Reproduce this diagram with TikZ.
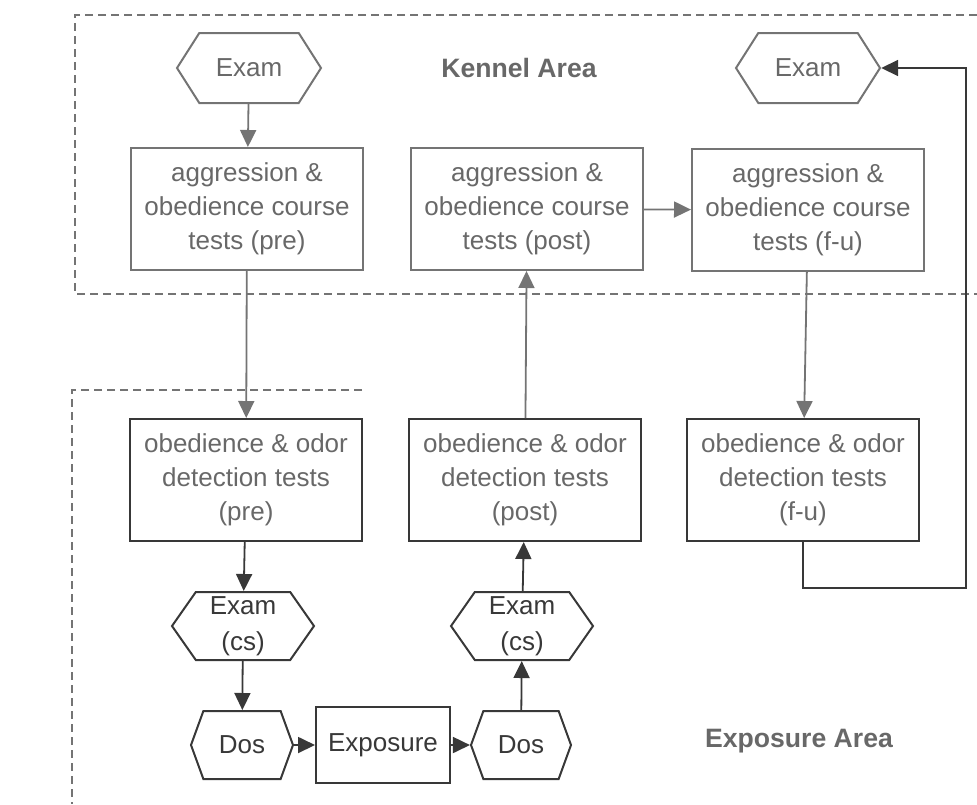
\documentclass[tikz,border=0pt]{standalone}
\usepackage{fontspec}
\setmainfont{Liberation Sans}
\usetikzlibrary{positioning, shapes.symbols, arrows.meta}

\definecolor{lineGray}{HTML}{747474}
\definecolor{darkLine}{HTML}{383838}
\definecolor{textGray}{HTML}{686868}

\begin{document}
\begin{tikzpicture}[x=0.5pt, y=-0.5pt,
    testbox/.style={draw=lineGray, line width=1pt, text=textGray, align=center,
        minimum width=116pt, minimum height=61pt, inner sep=1pt,
        font=\fontsize{13}{17}\selectfont},
    exam/.style={draw=lineGray, line width=1pt, text=textGray, align=center,
        signal, signal to=west and east, signal pointer angle=115,
        minimum width=72pt, minimum height=35pt, inner sep=1pt,
        font=\fontsize{13}{18}\selectfont},
    area/.style={text=textGray, font=\fontsize{13.3}{15}\selectfont\bfseries},
    flow/.style={draw=lineGray, line width=0.9pt, -{Triangle[length=8.5pt,width=8pt]}}]

    % page size
    \useasboundingbox (0,0) rectangle (977,804);

    % the two areas, dashed
    \draw[lineGray, line width=1pt, dash pattern=on 4pt off 2.5pt]
        (977,15) -- (75,15) -- (75,294) -- (977,294);
    \draw[lineGray, line width=1pt, dash pattern=on 4pt off 2.5pt]
        (362,390) -- (72,390) -- (72,804);
    \node[area] (kennel) at (519,68) {Kennel Area};
    \node[area] (exparea) at (799,741) {Exposure Area};

    % kennel row
    \node[exam] (examPre) at (249,68) {Exam};
    \node[exam] (examFu) at (808,68) {Exam};
    \node[testbox] (aggPre) at (247,209) {aggression \&\\obedience course\\tests (pre)};
    \node[testbox] (aggPost) at (527,209) {aggression \&\\obedience course\\tests (post)};
    \node[testbox] (aggFu) at (808,210) {aggression \&\\obedience course\\tests (f-u)};

    % exposure row
    \node[testbox, draw=darkLine] (odorPre) at (246,480) {obedience \& odor\\detection tests\\(pre)};
    \node[testbox, draw=darkLine] (odorPost) at (525,480) {obedience \& odor\\detection tests\\(post)};
    \node[testbox, draw=darkLine] (odorFu) at (803,480) {obedience \& odor\\detection tests\\(f-u)};

    \node[exam, draw=darkLine, text=darkLine, minimum width=71pt, minimum height=34pt, signal pointer angle=110] (csPre) at (243,626) {Exam\\(cs)};
    \node[exam, draw=darkLine, text=darkLine, minimum width=71pt, minimum height=34pt, signal pointer angle=110] (csPost) at (522,626) {Exam\\(cs)};
    \node[exam, draw=darkLine, text=darkLine, minimum width=51pt, minimum height=34pt, signal pointer angle=140] (dosPre) at (242,745) {Dos};
    \node[exam, draw=darkLine, text=darkLine, minimum width=50pt, minimum height=34pt, signal pointer angle=140] (dosPost) at (521,745) {Dos};
    \node[draw=darkLine, line width=1pt, text=darkLine, minimum width=67pt, minimum height=38pt,
        font=\fontsize{13}{15}\selectfont] (expo) at (383,745) {Exposure};

    % arrows
    \foreach \a/\b in {examPre/aggPre, aggPre/odorPre, aggFu/odorFu, odorPost/aggPost}
        \draw[flow] (\a) -- (\b);
    \foreach \a/\b in {odorPre/csPre, csPre/dosPre, dosPre/expo, expo/dosPost, dosPost/csPost, csPost/odorPost}
        \draw[flow, draw=darkLine] (\a) -- (\b);
    \draw[flow] (aggPost) -- (aggFu);

    % back up to the last exam
    \coordinate (back) at (966,588);
    \draw[flow, draw=darkLine] (odorFu.south) |- (back) |- (examFu.east);

\end{tikzpicture}
\end{document}
